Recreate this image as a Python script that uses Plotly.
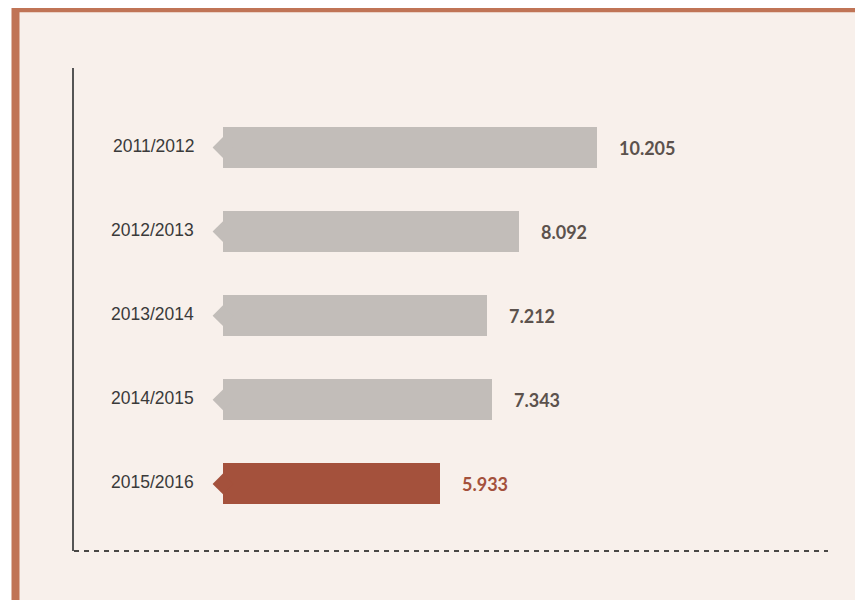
import plotly.graph_objects as go

# ---- data ----
categories = ["2011/2012", "2012/2013", "2013/2014", "2014/2015", "2015/2016"]
values = [10.205, 8.092, 7.212, 7.343, 5.933]
value_labels = ["10.205", "8.092", "7.212", "7.343", "5.933"]
highlight = [False, False, False, False, True]

GREY = "#C2BDB9"
RED = "#A4513C"
BG = "#F8F0EB"
FRAME = "#C07456"
TXT_VAL = "#5C524D"

bar_colors = [RED if h else GREY for h in highlight]
val_colors = [RED if h else TXT_VAL for h in highlight]

# page body margin of the html page shifts the figure by 8px
OFF = 8
W, H = 855, 592
# target screen positions of the plot area
SX0, SX1, SY0, SY1 = 74, 828, 68, 551
L = SX0 - OFF
T = SY0 - OFF
R = W - (SX1 - OFF)
B = H - (SY1 - OFF)
plot_w = SX1 - SX0
plot_h = SY1 - SY0

px_per_unit = 36.6
zero_px = 223 - SX0
x_range = [-zero_px / px_per_unit, (plot_w - zero_px) / px_per_unit]

pitch = 84.1
first_center = 147.5 - SY0
y_range = [(plot_h - first_center) / pitch, -first_center / pitch]

fig = go.Figure()

# notch markers (left-pointing tips) drawn in bar colours
fig.add_trace(go.Scatter(
    x=[0] * len(categories), y=categories, mode="markers",
    marker=dict(symbol="diamond", size=16, color=bar_colors, line=dict(width=0)),
    hoverinfo="skip", showlegend=False, cliponaxis=False,
))

fig.add_trace(go.Bar(
    x=values, y=categories, orientation="h", base=0,
    marker=dict(color=bar_colors, line=dict(width=0)),
    width=41 / pitch, hoverinfo="skip", showlegend=False,
))

annotations = []
for c, v, lab, col in zip(categories, values, value_labels, val_colors):
    annotations.append(dict(
        x=v, y=c, xref="x", yref="y", text=lab, showarrow=False,
        xanchor="left", yanchor="middle", xshift=20,
        font=dict(family="Lato, Liberation Sans, sans-serif", size=18, color=col, weight="bold"),
    ))
    annotations.append(dict(
        x=0, y=c, xref="x", yref="y", text=c, showarrow=False,
        xanchor="right", yanchor="middle", xshift=-27, yshift=2,
        font=dict(family="Liberation Sans, sans-serif", size=17.5, color="#3A3A3A"),
    ))

def px_to_paper_x(sx):
    return (sx - SX0) / plot_w

def px_to_paper_y(sy):
    return (SY1 - sy) / plot_h

shapes = [
    # outer frame (right edge lies outside the visible window)
    dict(type="rect", xref="paper", yref="paper", layer="below",
         x0=px_to_paper_x(15.5), x1=px_to_paper_x(960),
         y0=px_to_paper_y(608), y1=px_to_paper_y(8.3),
         fillcolor=BG, line=dict(color=FRAME, width=8)),
    # dashed baseline
    dict(type="line", xref="paper", yref="paper", x0=0, x1=1, y0=0, y1=0,
         line=dict(color="#111111", width=1.3, dash="5px,5px")),
]

fig.update_layout(
    width=W, height=H,
    margin=dict(l=L, r=R, t=T, b=B, pad=0),
    paper_bgcolor="white",
    plot_bgcolor="rgba(0,0,0,0)",
    showlegend=False,
    xaxis=dict(range=x_range, showgrid=False, zeroline=False, showticklabels=False,
               ticks="", showline=False, fixedrange=True),
    yaxis=dict(range=y_range, showgrid=False, zeroline=False, showticklabels=False,
               ticks="", showline=True, linecolor="#555555", linewidth=1.5, fixedrange=True),
    annotations=annotations,
    shapes=shapes,
    bargap=0,
)

fig.write_html("out.html")
